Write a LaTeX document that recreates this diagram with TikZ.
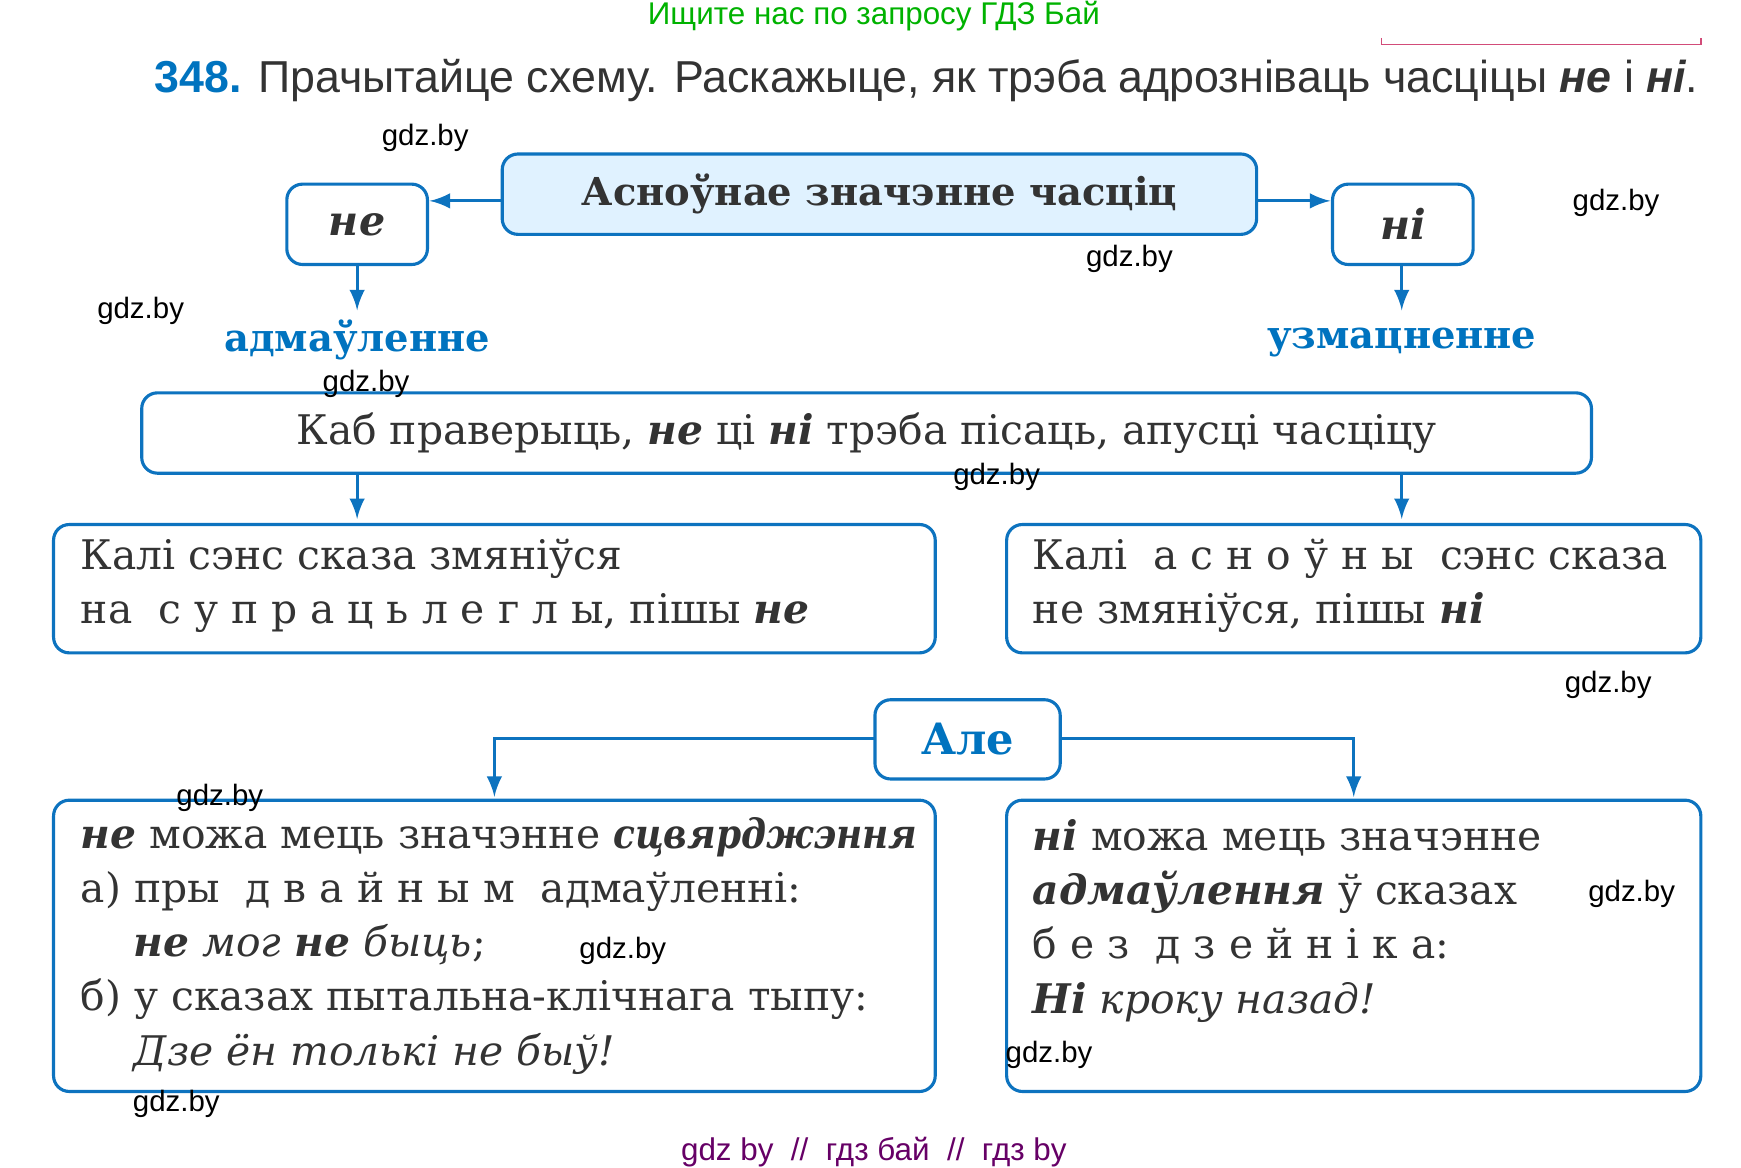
\documentclass[tikz,border=0pt]{standalone}
\usepackage{fontspec}
\setmainfont{DejaVu Serif}
\setsansfont{Liberation Sans}
\usetikzlibrary{positioning}
\definecolor{frame}{rgb}{0.05, 0.45, 0.75}
\definecolor{light}{rgb}{0.88, 0.95, 1}
\definecolor{mark}{rgb}{0.0, 0.45, 0.75}
\tikzset{
  box/.style={draw=frame, line width=0.8pt, rounded corners=4pt},
  txt/.style={font=\fontsize{10.4}{13.8}\selectfont, color=black!80, align=left, anchor=west},
  wm/.style={font=\sffamily\fontsize{7.5}{9}\selectfont},
  arr/.style={->, >=latex, draw=frame, line width=0.8pt}
}
\begin{document}
\begin{tikzpicture}[x=0.01cm, y=-0.01cm]
\useasboundingbox (0,0) rectangle (1560,1046);
% header
\node[font=\sffamily\fontsize{8}{9}\selectfont, color=green!70!black] (top) at (783,14) {Ищите нас по запросу ГДЗ Бай};
\draw[purple!70] (1238,34) -- (1238,40) -- (1524,40) -- (1524,34);
\node[anchor=west, font=\sffamily\fontsize{11.4}{13}\selectfont, color=black!80] (task) at (126,72)
  {\textbf{\color{mark}348.} Прачытайце схему. Раскажыце, як трэба адрозніваць часціцы \textbf{\itshape не} і \textbf{\itshape ні}.};
% top row
\draw[box, fill=light] (450,138) rectangle (1126,210) node[pos=0.5, font=\bfseries\fontsize{9.8}{12}\selectfont, color=black!80] (main) {Асноўнае значэнне часціц};
\draw[box] (257,165) rectangle (383,237) node[pos=0.5, font=\bfseries\itshape\fontsize{10.5}{13}\selectfont, color=black!80] (ne) {не};
\draw[box] (1194,165) rectangle (1320,237) node[pos=0.5, font=\bfseries\itshape\fontsize{10.5}{13}\selectfont, color=black!80] (ni) {ні};
\draw[arr] (450,180) -- (385,180);
\draw[arr] (1126,180) -- (1192,180);
\draw[arr] (320,237) -- (320,278);
\draw[arr] (1256,237) -- (1256,278);
\node[font=\bfseries\fontsize{9.8}{12}\selectfont, color=mark] (neg) at (320,305) {адмаўленне};
\node[font=\bfseries\fontsize{9.8}{12}\selectfont, color=mark] (amp) at (1256,307) {узмацненне};
% check box
\draw[box] (127,352) rectangle (1426,424) node[pos=0.5, txt, anchor=center] (check)
  {Каб праверыць, \textbf{\itshape не} ці \textbf{\itshape ні} трэба пісаць, апусці часціцу};
\draw[arr] (320,424) -- (320,465);
\draw[arr] (1256,424) -- (1256,465);
% rule boxes
\draw[box] (48,470) rectangle (838,585);
\node[txt] (ruleL) at (60,525) {Калі сэнс сказа змяніўся\\на \ с у п р а ц ь л е г л ы, пішы \textbf{\itshape не}};
\draw[box] (902,470) rectangle (1524,585);
\node[txt] (ruleR) at (913,525) {Калі \ а с н о ў н ы \ сэнс сказа\\не змяніўся, пішы \textbf{\itshape ні}};
% but
\draw[box] (784,627) rectangle (950,698) node[pos=0.5, font=\bfseries\fontsize{11}{13}\selectfont, color=mark] (but) {Але};
\draw[arr] (784,662) -- (443,662) -- (443,714);
\draw[arr] (950,662) -- (1213,662) -- (1213,714);
% bottom boxes
\draw[box] (48,717) rectangle (838,978);
\node[txt, anchor=north west] (exL) at (60,720) {\textbf{\itshape не} можа мець значэнне \scalebox{0.88}[1]{\textbf{\itshape сцвярджэння}}\\
а) пры \ д в а й н ы м \ адмаўленні:\\
\hspace*{1.3em}\textbf{\itshape не} \textit{мог} \textbf{\itshape не} \textit{быць};\\
б) у сказах пытальна-клічнага тыпу:\\
\hspace*{1.3em}\textit{Дзе ён толькі не быў!}};
\draw[box] (902,717) rectangle (1524,978);
\node[txt, anchor=north west] (exR) at (913,722) {\textbf{\itshape ні} можа мець значэнне\\
\textbf{\itshape адмаўлення} ў сказах\\
б е з \ д з е й н і к а:\\
\textbf{\itshape Ні} \textit{кроку назад!}};
% watermarks
\foreach \wx/\wy [count=\i] in {381/124, 1448/182, 1012/232, 126/279, 328/344, 893/427, 1441/614, 197/715, 1462/801, 558/852, 940/945, 158/989}
  \node[wm] (wm\i) at (\wx,\wy) {gdz.by};
\node[font=\sffamily\fontsize{8}{9}\selectfont, color=violet!80!black] (foot) at (783,1032) {gdz by \ // \ гдз бай \ // \ гдз by};
\end{tikzpicture}
\end{document}
